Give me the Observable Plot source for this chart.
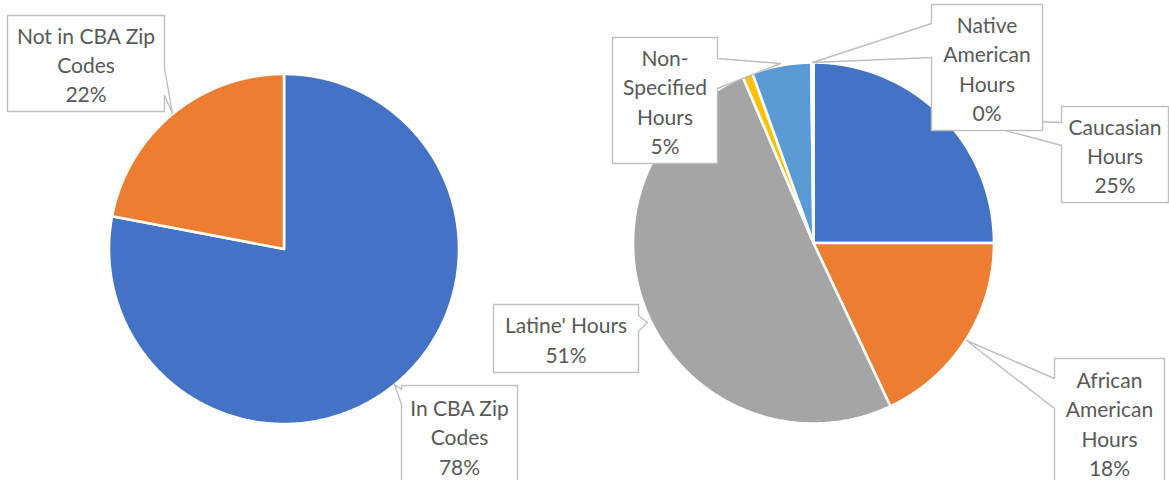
<!DOCTYPE html>
<html>
<head>
<meta charset="utf-8">
<script src="https://cdn.jsdelivr.net/npm/d3@7"></script>
<script src="https://cdn.jsdelivr.net/npm/@observablehq/plot@0.6"></script>
<style>
  html, body { margin: 0; padding: 0; background: #ffffff; }
  #chart svg { display: block; }
</style>
</head>
<body>
<div id="chart"></div>
<script>
// ---- Data ----
const zipCategories = ["In CBA Zip Codes", "Not in CBA Zip Codes"];
const zipLabels = ["In CBA Zip\nCodes", "Not in CBA Zip\nCodes"];
const zipShares = [78, 22];
const zipColors = ["#4472C4", "#ED7D31"];

const hourCategories = ["Caucasian Hours", "African American Hours", "Latine' Hours", "Unlabeled", "Non-Specified Hours", "Native American Hours"];
const hourLabels = ["Caucasian\nHours", "African\nAmerican\nHours", "Latine' Hours", null, "Non-\nSpecified\nHours", "Native\nAmerican\nHours"];
const hourShares = [25.0, 18.0, 50.6, 0.9, 5.3, 0.2];
const hourColors = ["#4472C4", "#ED7D31", "#A5A5A5", "#FFC000", "#5B9BD5", "#70AD47"];

// ---- Layout ----
const W = 1169, H = 480;
const pies = [
  {id: "zip", cx: 283.5, cy: 248.5, r: 175, cats: zipCategories, vals: zipShares, colors: zipColors, labels: zipLabels},
  {id: "hours", cx: 813, cy: 242.5, r: 180.5, cats: hourCategories, vals: hourShares, colors: hourColors, labels: hourLabels}
];
// callout boxes: [x0,y0,x1,y1], wedge side, attach y's, tip
const callouts = {
  "In CBA Zip Codes": {box: [401, 385, 517, 486], side: "left", a1: 389, a2: 404, tip: [394, 384]},
  "Not in CBA Zip Codes": {box: [7, 15, 164, 111], side: "right", a1: 68, a2: 95, tip: [172, 113]},
  "Caucasian Hours": {box: [1061, 106, 1168, 202], side: "left", a1: 122, a2: 145, tip: [960, 118]},
  "Native American Hours": {box: [931, 4, 1042, 130], side: "left", a1: 23, a2: 57, tip: [812, 62]},
  "Non-Specified Hours": {box: [612, 37, 717, 163], side: "right", a1: 58, a2: 88, tip: [780, 63]},
  "Latine' Hours": {box: [493, 304, 638, 372], side: "right", a1: 315, a2: 331, tip: [647, 322]},
  "African American Hours": {box: [1054, 358, 1164, 486], side: "left", a1: 378, a2: 408, tip: [966, 340]}
};
const drawOrder = ["In CBA Zip Codes", "Not in CBA Zip Codes", "Caucasian Hours", "Native American Hours", "Non-Specified Hours", "Latine' Hours", "African American Hours"];

// ---- Build slice polygons via d3.pie ----
const slicePts = [];
for (const p of pies) {
  const arcs = d3.pie().sort(null).value(d => d)(p.vals);
  arcs.forEach((a, i) => {
    const key = p.id + "-" + i;
    const col = p.colors[i];
    slicePts.push({key, x: p.cx, y: p.cy, fill: col});
    const n = Math.max(2, Math.ceil((a.endAngle - a.startAngle) / 0.01));
    for (let k = 0; k <= n; k++) {
      const t = a.startAngle + (a.endAngle - a.startAngle) * k / n;
      slicePts.push({key, x: p.cx + p.r * Math.sin(t), y: p.cy - p.r * Math.cos(t), fill: col});
    }
    slicePts.push({key, x: p.cx, y: p.cy, fill: col});
  });
}

// ---- Callout polygons and texts ----
const labelRows = [];
for (const p of pies) {
  p.cats.forEach((c, i) => {
    if (p.labels[i] == null) return;
    labelRows.push({cat: c, text: p.labels[i] + "\n" + Math.round(p.vals[i]) + "%"});
  });
}
const calloutPts = [];
const textRows = [];
drawOrder.forEach(cat => {
  const row = labelRows.find(d => d.cat === cat);
  if (!row) return;
  const c = callouts[cat];
  const [x0, y0, x1, y1] = c.box;
  let pts;
  if (c.side === "right") {
    pts = [[x0, y0], [x1, y0], [x1, c.a1], c.tip, [x1, c.a2], [x1, y1], [x0, y1], [x0, y0]];
  } else {
    pts = [[x0, y0], [x1, y0], [x1, y1], [x0, y1], [x0, c.a2], c.tip, [x0, c.a1], [x0, y0]];
  }
  pts.forEach(([x, y]) => calloutPts.push({key: cat, x, y}));
  const yb = Math.min(y1, H + 6);
  textRows.push({cat, text: row.text, x: (x0 + x1) / 2, y: (y0 + y1) / 2});
});

const marks = [
  Plot.line(slicePts, {x: "x", y: "y", z: "key", fill: "fill", stroke: "white", strokeWidth: 2.6, curve: "linear", strokeLinejoin: "miter"})
];
drawOrder.forEach(cat => {
  const pts = calloutPts.filter(d => d.key === cat);
  const tr = textRows.filter(d => d.cat === cat);
  if (!pts.length) return;
  marks.push(Plot.line(pts, {x: "x", y: "y", fill: "white", stroke: "#BFBFBF", strokeWidth: 1.4, curve: "linear"}));
  marks.push(Plot.text(tr, {x: "x", y: "y", text: "text", fill: "#595959", fontSize: 21, lineHeight: 1.4, textAnchor: "middle", lineAnchor: "middle"}));
});

const chart = Plot.plot({
  width: W,
  height: H,
  margin: 0,
  style: {fontFamily: "Lato, 'Open Sans', sans-serif", background: "white", overflow: "hidden"},
  x: {type: "linear", domain: [0, W], range: [0, W], axis: null},
  y: {type: "linear", domain: [0, H], range: [0, H], axis: null},
  color: {type: "identity"},
  marks
});
document.getElementById("chart").appendChild(chart);
</script>
</body>
</html>
